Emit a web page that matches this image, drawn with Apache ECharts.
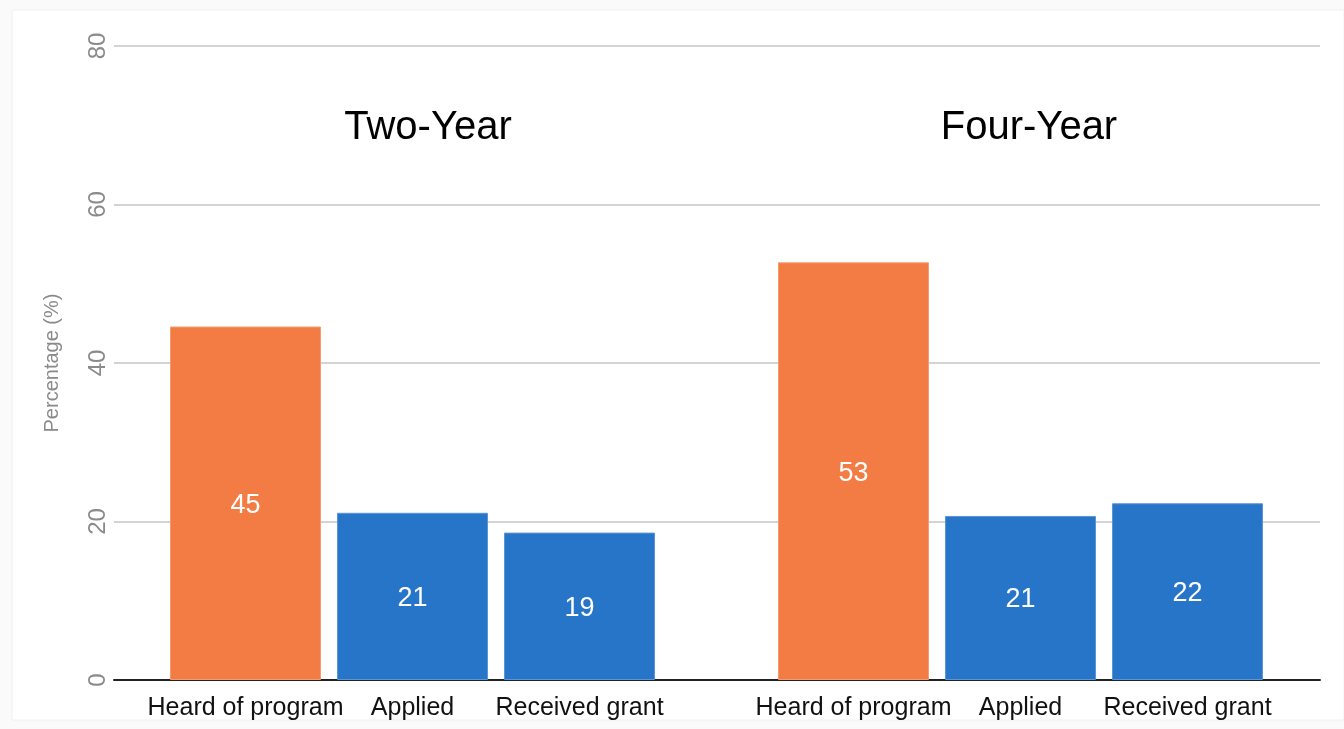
<!DOCTYPE html>
<html>
<head>
<meta charset="utf-8">
<script src="https://cdn.jsdelivr.net/npm/echarts@6/dist/echarts.min.js"></script>
<style>
html,body{margin:0;padding:0;background:#fafafa;}
#chart{width:1344px;height:729px;}
</style>
</head>
<body>
<div id="chart"></div>
<script>
const categories = ['Heard of program', 'Applied', 'Received grant'];
const groupTitles = ['Two-Year', 'Four-Year'];
const twoYear = [44.6, 21.1, 18.6];
const fourYear = [52.7, 20.7, 22.3];
const yTicks = { min: 0, max: 80, interval: 20 };
const yName = 'Percentage (%)';

const ORANGE = '#F27C43';
const BLUE = '#2675C9';
const FONT = '"Liberation Sans", Arial, sans-serif';

function barData(vals) {
  return vals.map((v, i) => ({
    value: v,
    itemStyle: { color: i === 0 ? ORANGE : BLUE, borderColor: i === 0 ? '#F59A6C' : '#5A95D6', borderWidth: 1 }
  }));
}

const chart = echarts.init(document.getElementById('chart'));
const gridTop = 46, gridBottom = 49;
chart.setOption({
  backgroundColor: '#fafafa',
  animation: false,
  graphic: [
    { type: 'rect', z: -10, silent: true,
      shape: { x: 12, y: 10, width: 1332, height: 710 },
      style: { fill: '#ffffff', stroke: '#f0f0f0', lineWidth: 1 } },
    { type: 'text', x: 428, y: 128, silent: true,
      style: { text: groupTitles[0], align: 'center', verticalAlign: 'middle',
        font: '40px "Liberation Sans", Arial, sans-serif', fill: '#000' } },
    { type: 'text', x: 1029, y: 128, silent: true,
      style: { text: groupTitles[1], align: 'center', verticalAlign: 'middle',
        font: '40px "Liberation Sans", Arial, sans-serif', fill: '#000' } }
  ],
  grid: [
    { left: 114, right: 24, top: gridTop, bottom: gridBottom },
    { left: 162, width: 501, top: gridTop, bottom: gridBottom },
    { left: 770, width: 501, top: gridTop, bottom: gridBottom }
  ],
  xAxis: [
    { type: 'category', gridIndex: 0, data: [''],
      axisLine: { show: true, lineStyle: { color: '#222', width: 2 } },
      axisTick: { show: false }, axisLabel: { show: false }, splitLine: { show: false } },
    { type: 'category', gridIndex: 1, data: categories,
      axisLine: { show: false }, axisTick: { show: false },
      axisLabel: { fontFamily: FONT, fontSize: 25, color: '#111', margin: 16, interval: 0 } },
    { type: 'category', gridIndex: 2, data: categories,
      axisLine: { show: false }, axisTick: { show: false },
      axisLabel: { fontFamily: FONT, fontSize: 25, color: '#111', margin: 16, interval: 0 } }
  ],
  yAxis: [
    { type: 'value', gridIndex: 0, min: yTicks.min, max: yTicks.max, interval: yTicks.interval,
      name: yName, nameLocation: 'middle', nameGap: 52, nameRotate: 90,
      nameTextStyle: { fontFamily: FONT, fontSize: 20, color: '#8a8a8a' },
      axisLine: { show: false }, axisTick: { show: false },
      axisLabel: { rotate: 90, fontFamily: FONT, fontSize: 24, color: '#8a8a8a', margin: 4 },
      splitLine: { lineStyle: { color: '#d4d4d4', width: 2 } } },
    { type: 'value', gridIndex: 1, min: yTicks.min, max: yTicks.max, show: false, splitLine: { show: false } },
    { type: 'value', gridIndex: 2, min: yTicks.min, max: yTicks.max, show: false, splitLine: { show: false } }
  ],
  series: [
    { type: 'bar', xAxisIndex: 1, yAxisIndex: 1, barCategoryGap: '9.6%', data: barData(twoYear),
      label: { show: true, position: 'inside', offset: [0, 2], color: '#fff', fontFamily: FONT, fontSize: 27,
        formatter: p => Math.round(p.value) } },
    { type: 'bar', xAxisIndex: 2, yAxisIndex: 2, barCategoryGap: '9.6%', data: barData(fourYear),
      label: { show: true, position: 'inside', offset: [0, 2], color: '#fff', fontFamily: FONT, fontSize: 27,
        formatter: p => Math.round(p.value) } }
  ]
});
</script>
</body>
</html>
